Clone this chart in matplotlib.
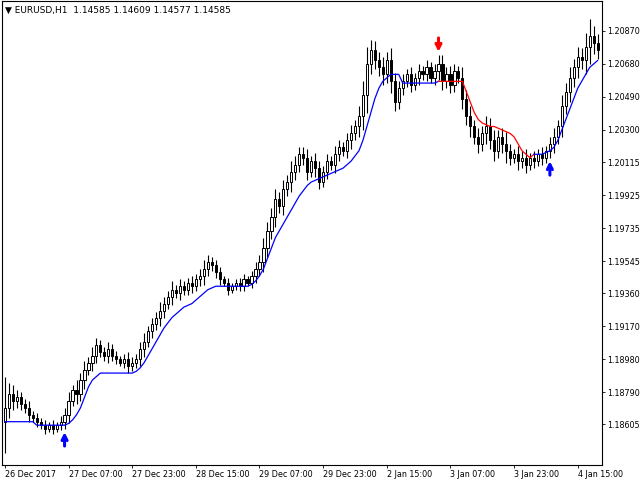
import numpy as np
import matplotlib
matplotlib.use("Agg")
import matplotlib.pyplot as plt

BASE = 1.18
# closes in pips above 1.18000, one per H1 bar
closes = [70, 78, 74, 76, 72, 70, 66, 64, 62, 60, 58, 60, 58, 60, 62,
          66, 74, 80, 78, 86, 92, 96, 100, 106, 102, 100, 104, 100, 98, 96, 98, 94, 96,
          98, 104, 108, 114, 118, 122, 126, 130, 134, 138, 136, 140, 138, 142, 140, 144, 146,
          150, 154, 152, 148, 144, 142, 138, 140, 142, 140, 144, 142, 146, 150, 154,
          162, 172, 180, 190, 186, 196, 200, 206, 210, 216, 214, 206, 212, 208, 200,
          206, 212, 210, 216, 220, 218, 224, 228, 232, 238, 250, 268, 276, 270, 266,
          262, 270, 258, 246, 254, 258, 262, 256, 260, 264, 262, 266, 260, 264, 268,
          258, 262, 256, 264, 260, 248, 238, 232, 226, 222, 228, 232, 224, 218, 226, 222, 218, 214, 216, 212,
          214, 210, 214, 212, 216, 214, 218, 222, 226, 232, 244, 252, 260, 266, 272, 270, 278, 284, 280, 276]
opens = [62] + closes[:-1]
wicks = [18, 6, 5, 4, 3, 3, 4, 2, 3, 2, 3, 2, 3, 2, 3, 4, 5, 3, 6, 4, 5, 3, 5, 4, 3,
         3, 4, 3, 3, 2, 3, 4, 3, 3, 4, 5, 3, 4, 3, 5, 4, 3, 5, 3, 4, 3, 3, 4, 3, 4,
         5, 4, 3, 3, 3, 2, 3, 2, 2, 3, 3, 2, 3, 4, 4, 6, 5, 5, 6, 4, 5, 4, 6, 5, 4,
         4, 5, 3, 5, 4, 3, 4, 3, 5, 4, 3, 4, 5, 4, 6, 8, 10, 6, 5, 5, 6, 5, 7, 5, 4,
         4, 3, 4, 3, 4, 3, 4, 3, 4, 5, 5, 4, 5, 4, 3, 6, 5, 6, 4, 5, 4, 6, 5, 6, 4,
         5, 7, 4, 3, 5, 4, 5, 3, 4, 3, 4, 3, 4, 5, 4, 6, 5, 6, 5, 6, 5, 8, 10, 6, 5]
stop = [62, 62, 62, 62, 62, 62, 62, 62, 60, 60, 60, 60, 60, 60, 60, 60,
        61, 63, 66, 70, 76, 82, 86, 88, 90,
        90, 90, 90, 90, 90, 90, 90, 90,
        91, 93, 96, 100, 104, 108, 112,
        116, 119, 122, 124, 126, 128, 129, 130, 132, 134,
        136, 138, 139, 140, 140,
        140, 140, 140, 140, 140, 140, 140, 141, 143, 146,
        150, 156, 162, 168, 172, 176, 180, 184, 188, 192,
        195, 198, 200, 201, 202, 203, 204, 205, 206, 207, 208, 210, 212, 215, 218,
        224, 232, 240, 248, 254, 258, 260, 262, 262, 262,
        257, 257, 257, 257, 257, 257, 257, 257, 257,
        258, 258, 258, 258, 258, 258, 258, 252, 246, 240, 236, 234,
        233, 232, 232, 231, 230, 229, 228, 226, 222, 218, 216, 214,
        216, 216, 216, 217, 218, 220, 224,
        230, 236, 242, 248, 254, 258, 262, 266, 268, 270]
red_from, red_to = 109, 132
arrow_up = [15, 137]
arrow_dn = [109]
ytick_vals = [1.18605, 1.18790, 1.18980, 1.19170, 1.19360, 1.19545, 1.19735,
              1.19925, 1.20115, 1.20300, 1.20490, 1.20680, 1.20870]
xtick_pos = [0, 16, 32, 48, 64, 80, 96, 112, 128, 144]
xtick_labels = ["26 Dec 2017", "27 Dec 07:00", "27 Dec 23:00", "28 Dec 15:00", "29 Dec 07:00",
                "29 Dec 23:00", "2 Jan 15:00", "3 Jan 07:00", "3 Jan 23:00", "4 Jan 15:00"]

o = BASE + np.array(opens) / 1e4
c = BASE + np.array(closes) / 1e4
w = np.array(wicks) / 1e4
hi = np.maximum(o, c) + w
lo = np.minimum(o, c) - w
st = BASE + np.array(stop) / 1e4
x = np.arange(len(c))

fig = plt.figure(figsize=(6.4, 4.8), dpi=100)
ax = fig.add_axes([0.003, 0.031, 0.937, 0.966])
for i in x:
    ax.vlines(i, lo[i], hi[i], color="black", lw=0.8, zorder=2)
    bot, h = min(o[i], c[i]), abs(c[i] - o[i])
    ax.bar(i, max(h, 0.00001), bottom=bot, width=0.55,
           color="white" if c[i] >= o[i] else "black", edgecolor="black", lw=0.7, zorder=3)

ax.plot(x[:red_from + 1], st[:red_from + 1], color="blue", lw=0.9, zorder=4)
ax.plot(x[red_from:red_to + 2], st[red_from:red_to + 2], color="red", lw=0.9, zorder=4)
ax.plot(x[red_to + 1:], st[red_to + 1:], color="blue", lw=0.9, zorder=4)
arrow_kw = dict(arrowstyle="->", lw=2.2, mutation_scale=9, shrinkA=0, shrinkB=0)
for i in arrow_up:
    ax.annotate("", xy=(i, lo[i] - 0.0002), xytext=(i, lo[i] - 0.0010),
                arrowprops=dict(color="blue", **arrow_kw), zorder=5)
for i in arrow_dn:
    ax.annotate("", xy=(i, hi[i] + 0.0002), xytext=(i, hi[i] + 0.0010),
                arrowprops=dict(color="red", **arrow_kw), zorder=5)

ax.set_xlim(-0.75, 150)
ax.set_ylim(BASE + 37 / 1e4, BASE + 304 / 1e4)
ax.yaxis.tick_right()
ax.set_yticks(ytick_vals)
ax.set_yticklabels([f"{v:.5f}" for v in ytick_vals])
ax.set_xticks(xtick_pos)
ax.set_xticklabels(xtick_labels, ha="left")
ax.tick_params(labelsize=5.8, length=2.5, width=0.6, pad=1.2)
for s in ax.spines.values():
    s.set_linewidth(0.8)
ax.text(0.005, 0.99, "\u25bc EURUSD,H1  1.14585 1.14609 1.14577 1.14585", transform=ax.transAxes,
        fontsize=6.5, va="top", ha="left")
fig.savefig("out.png")
